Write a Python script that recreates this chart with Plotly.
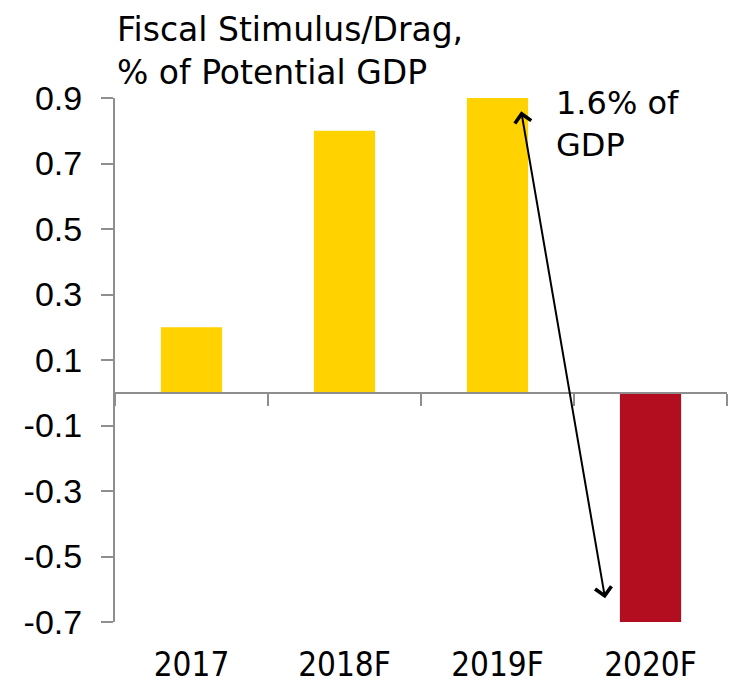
import plotly.graph_objects as go

# Fiscal impulse by year, % of potential GDP
categories = ["2017", "2018F", "2019F", "2020F"]
values = [0.2, 0.8, 0.9, -0.7]
bar_colors = ["#FFD200", "#FFD200", "#FFD200", "#B20E1F"]
y_ticks = [-0.7, -0.5, -0.3, -0.1, 0.1, 0.3, 0.5, 0.7, 0.9]
y_tick_labels = ["-0.7", "-0.5", "-0.3", "-0.1", "0.1", "0.3", "0.5", "0.7", "0.9"]

AXIS_GREY = "#8E8E8E"
Y_MIN, Y_MAX = -0.7, 0.9

fig = go.Figure()

fig.add_trace(go.Bar(
    x=categories, y=values, width=0.4,
    marker=dict(color=bar_colors, line=dict(width=0)),
    xaxis="x", yaxis="y", showlegend=False, hoverinfo="x+y",
))

# invisible trace that keeps the zero-line axis alive
fig.add_trace(go.Scatter(
    x=categories, y=[0] * len(categories), mode="markers",
    marker=dict(opacity=0), xaxis="x2", yaxis="y",
    showlegend=False, hoverinfo="skip",
))

# swing from the 2019 stimulus to the 2020 drag
swing = values[2] - values[3]
fig.add_annotation(
    x=2.73, y=values[3], ax=2.14, ay=values[2],
    xref="x", yref="y", axref="x", ayref="y",
    text="", showarrow=True,
    arrowhead=4, startarrowhead=4, arrowside="end+start",
    arrowwidth=2, arrowsize=1.6, startarrowsize=1.6,
    arrowcolor="black", standoff=24, startstandoff=12,
)
fig.add_annotation(
    x=2.37, y=values[2], xref="x", yref="y",
    xanchor="left", yanchor="top", yshift=16, align="left",
    text=f"{swing:.1f}% of<br>GDP", showarrow=False,
    font=dict(family="DejaVu Sans", size=32, color="black"),
)

# chart title above the plot
fig.add_annotation(
    x=0, y=1, xref="paper", yref="paper",
    xanchor="left", yanchor="bottom", yshift=4, align="left",
    text="Fiscal Stimulus/Drag,<br>% of Potential GDP", showarrow=False,
    font=dict(family="DejaVu Sans", size=33, color="black"),
)

zero_pos = (0 - Y_MIN) / (Y_MAX - Y_MIN)

fig.update_layout(
    width=732, height=686,
    margin=dict(l=115, r=5, t=98, b=64, pad=0),
    paper_bgcolor="white", plot_bgcolor="white",
    bargap=0.6,
    xaxis=dict(
        type="category", categoryorder="array", categoryarray=categories,
        range=[-0.5, 3.5], showline=False, ticks="", showgrid=False,
        zeroline=False, ticklabelstandoff=20, automargin=False,
        tickfont=dict(family="DejaVu Sans Condensed", size=33, color="black"),
    ),
    xaxis2=dict(
        type="category", categoryorder="array", categoryarray=categories,
        range=[-0.5, 3.5], overlaying="x", anchor="free", position=zero_pos,
        showline=True, linecolor=AXIS_GREY, linewidth=2,
        ticks="outside", tickson="boundaries", ticklen=12, tickwidth=2,
        tickcolor=AXIS_GREY, showticklabels=False, showgrid=False,
        zeroline=False, automargin=False,
    ),
    yaxis=dict(
        range=[Y_MIN, Y_MAX], tickmode="array", tickvals=y_ticks,
        ticktext=y_tick_labels, showline=True, linecolor=AXIS_GREY,
        linewidth=2, ticks="outside", ticklen=12, tickwidth=2,
        tickcolor=AXIS_GREY, showgrid=False, zeroline=False,
        ticklabelstandoff=12, automargin=False,
        tickfont=dict(family="Liberation Sans", size=34, color="black"),
    ),
)

fig.write_html("out.html")
